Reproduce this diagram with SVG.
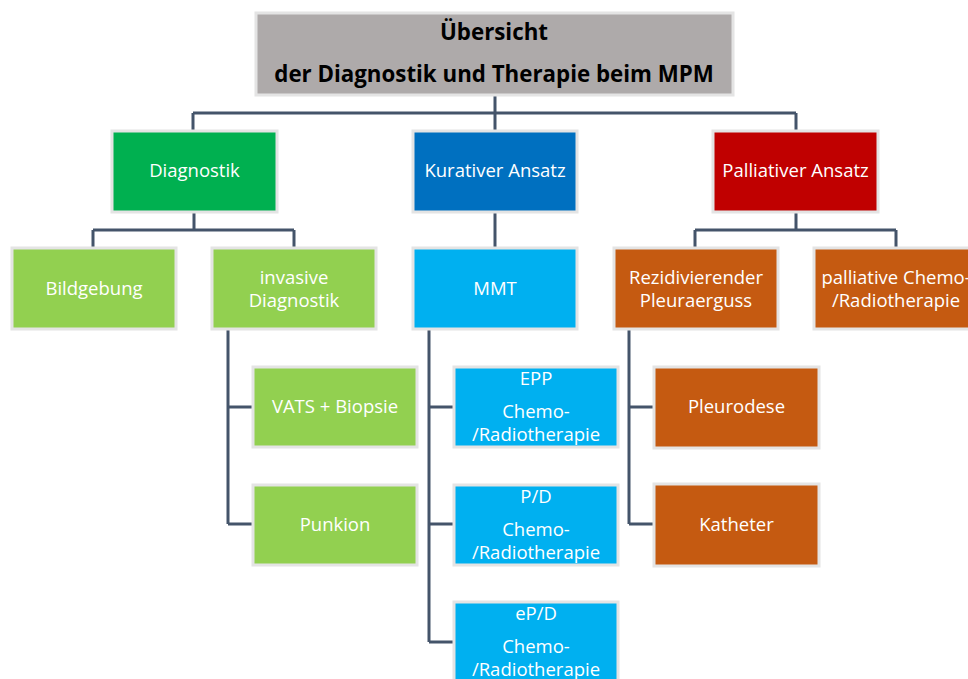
<svg xmlns="http://www.w3.org/2000/svg" width="968" height="679" viewBox="0 0 968 679">
<style>
.b{stroke:#e4e4e4;stroke-width:3}
.t{font-family:"Open Sans","Liberation Sans",sans-serif;font-size:18.5px;fill:#fff;text-anchor:middle}
.h{font-family:"Open Sans","Liberation Sans",sans-serif;font-size:22.3px;font-weight:bold;fill:#000;text-anchor:middle}
.c{fill:none;stroke:#44546a;stroke-width:3}
</style>
<rect width="968" height="679" fill="#fff"/>
<g id="connectors">
<path class="c" d="M495 95V113M193 113H796M193 113V131M495 113V131M796 113V131"/>
<path class="c" d="M194 212V230M93 230H294M93 230V248M294 230V248"/>
<path class="c" d="M495 212V248"/>
<path class="c" d="M796 212V230M695 230H896M695 230V248M896 230V248"/>
<path class="c" d="M228 329V524M228 407H253M228 524H253"/>
<path class="c" d="M429 329V642M429 407H454M429 524H454M429 642H454"/>
<path class="c" d="M629 329V524M629 407H654M629 524H654"/>
</g>
<g id="title"><rect class="b" x="256" y="13" width="477" height="82" fill="#aeaaaa"/><text class="h" x="494" y="40">Übersicht</text><text class="h" x="494" y="82">der Diagnostik und Therapie beim MPM</text></g>
<g id="diagnostik"><rect class="b" x="112" y="131" width="165" height="81" fill="#00b050"/><text class="t" x="194.5" y="177">Diagnostik</text></g>
<g id="kurativ"><rect class="b" x="413" y="131" width="164" height="81" fill="#0070c0"/><text class="t" x="495" y="177">Kurativer Ansatz</text></g>
<g id="palliativ"><rect class="b" x="713" y="131" width="165" height="81" fill="#c00000"/><text class="t" x="795.5" y="177">Palliativer Ansatz</text></g>
<g id="bildgebung"><rect class="b" x="12" y="248" width="164" height="81" fill="#92d050"/><text class="t" x="94" y="295">Bildgebung</text></g>
<g id="invasive"><rect class="b" x="212" y="248" width="164" height="81" fill="#92d050"/><text class="t" x="294" y="284">invasive</text><text class="t" x="294" y="307">Diagnostik</text></g>
<g id="mmt"><rect class="b" x="413" y="248" width="164" height="81" fill="#00b0f0"/><text class="t" x="495" y="295">MMT</text></g>
<g id="rezidiv"><rect class="b" x="614" y="248" width="164" height="81" fill="#c55a11"/><text class="t" x="696" y="284">Rezidivierender</text><text class="t" x="696" y="307">Pleuraerguss</text></g>
<g id="pallchemo"><rect class="b" x="814" y="248" width="166" height="81" fill="#c55a11"/><text class="t" x="896" y="284">palliative Chemo-</text><text class="t" x="896" y="307">/Radiotherapie</text></g>
<g id="vats"><rect class="b" x="253" y="367" width="164" height="80" fill="#92d050"/><text class="t" x="335" y="413">VATS + Biopsie</text></g>
<g id="punkion"><rect class="b" x="253" y="485" width="164" height="80" fill="#92d050"/><text class="t" x="335" y="531">Punkion</text></g>
<g id="epp"><rect class="b" x="454" y="367" width="164" height="80" fill="#00b0f0"/><text class="t" x="536" y="385">EPP</text><text class="t" x="536" y="418">Chemo-</text><text class="t" x="536" y="441">/Radiotherapie</text></g>
<g id="pd"><rect class="b" x="454" y="485" width="164" height="80" fill="#00b0f0"/><text class="t" x="536" y="503">P/D</text><text class="t" x="536" y="536">Chemo-</text><text class="t" x="536" y="559">/Radiotherapie</text></g>
<g id="epd"><rect class="b" x="454" y="602" width="164" height="82" fill="#00b0f0"/><text class="t" x="536" y="620">eP/D</text><text class="t" x="536" y="653">Chemo-</text><text class="t" x="536" y="676">/Radiotherapie</text></g>
<g id="pleurodese"><rect class="b" x="654" y="367" width="165" height="81" fill="#c55a11"/><text class="t" x="736.5" y="413">Pleurodese</text></g>
<g id="katheter"><rect class="b" x="654" y="484" width="165" height="82" fill="#c55a11"/><text class="t" x="736.5" y="531">Katheter</text></g>
</svg>
